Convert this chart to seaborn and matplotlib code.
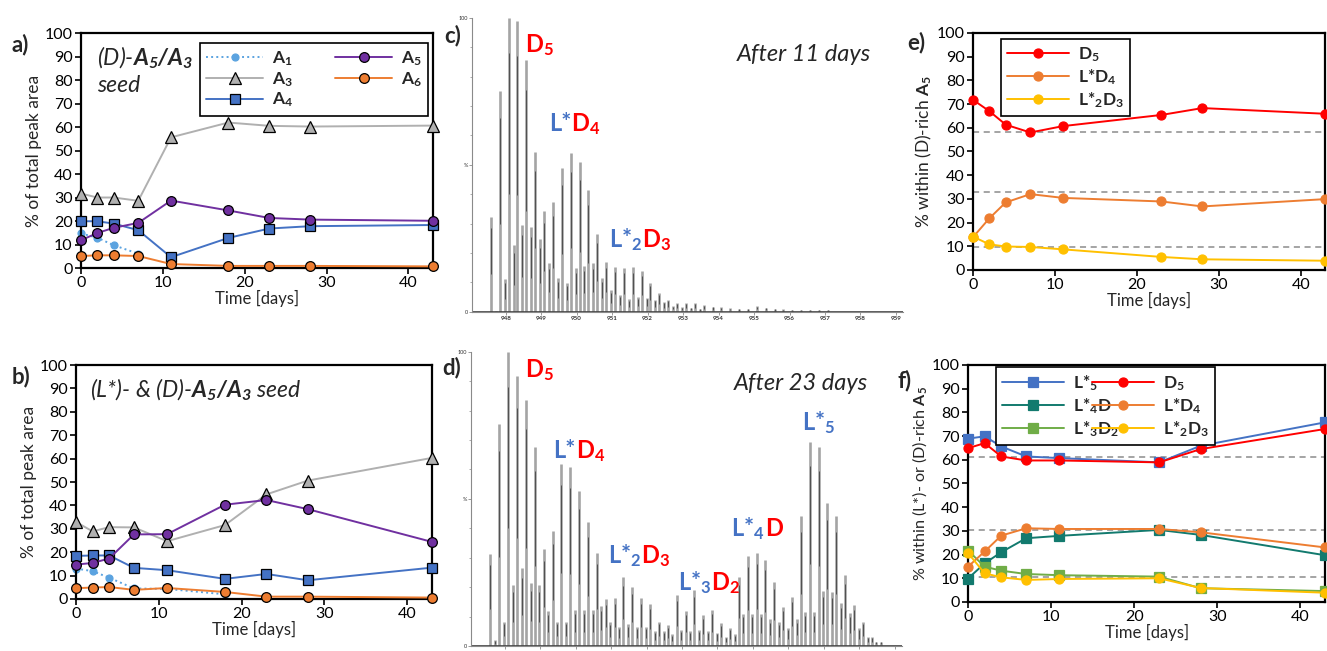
"""
Time course of A_n distributions (a, b), two mass spectra (c, d) and
composition within the A5 fraction (e, f).
"""
import matplotlib
matplotlib.use("Agg")
import matplotlib.pyplot as plt
from matplotlib.offsetbox import TextArea, HPacker, AnnotationBbox
import seaborn as sns

sns.set_theme(style="ticks")
plt.rcParams["font.family"] = ["Lato", "DejaVu Sans"]
plt.rcParams.update({
    "mathtext.fontset": "custom",
    "mathtext.rm": "Lato",
    "mathtext.it": "Lato:italic",
    "mathtext.bf": "Lato:bold",
    "mathtext.bfit": "Lato:bold:italic",
})

# ---- data: panels a and b (% of total peak area) ----
t_ab = [0, 2, 4, 7, 11, 18, 23, 28, 43]
a_A1_t = [0, 2, 4, 7]
a_A1 = [14.7, 12.9, 9.7, 6.1]
a_A3 = [31.7, 30.0, 30.0, 28.6, 55.6, 61.9, 60.5, 60.2, 60.6]
a_A4 = [19.9, 19.9, 18.9, 16.1, 4.6, 12.8, 16.8, 17.8, 18.3]
a_A5 = [11.8, 14.9, 17.1, 19.2, 28.7, 24.5, 21.3, 20.6, 20.1]
a_A6 = [5.1, 5.4, 5.4, 5.1, 1.7, 0.9, 0.9, 0.9, 0.7]

b_A1_t = [0, 2, 4, 7, 11, 18]
b_A1 = [13.0, 11.9, 9.1, 4.5, 4.3, 2.0]
b_A3 = [32.9, 28.9, 30.7, 30.6, 24.7, 31.6, 44.7, 50.6, 60.3]
b_A4 = [18.4, 18.6, 18.6, 13.3, 12.3, 8.6, 10.7, 8.0, 13.4]
b_A5 = [14.7, 15.4, 17.3, 27.6, 27.7, 40.3, 42.3, 38.4, 24.4]
b_A6 = [4.6, 4.9, 5.1, 3.9, 4.7, 3.0, 1.0, 1.0, 0.6]

# ---- data: panels e and f (% within A5) ----
t_ef = [0, 2, 4, 7, 11, 23, 28, 43]
e_D5 = [71.8, 67.0, 61.3, 58.0, 60.7, 65.4, 68.3, 65.9]
e_LD4 = [13.8, 21.8, 28.5, 32.0, 30.4, 28.9, 26.8, 29.9]
e_L2D3 = [14.1, 10.8, 9.9, 9.7, 8.7, 5.5, 4.5, 3.9]
e_ref = [58.0, 32.7, 9.5]

f_L5 = [68.9, 69.9, 65.6, 61.4, 60.7, 58.9, 65.9, 75.8]
f_D5 = [64.9, 67.0, 61.4, 59.7, 59.7, 58.9, 64.5, 73.0]
f_L4D = [9.9, 16.3, 21.0, 26.9, 27.9, 30.4, 28.3, 19.7]
f_LD4 = [14.9, 21.3, 28.0, 31.1, 30.8, 30.8, 29.4, 23.0]
f_L3D2 = [21.7, 14.9, 13.2, 11.8, 11.3, 10.7, 5.8, 4.6]
f_L2D3 = [20.6, 12.1, 10.4, 9.3, 9.7, 10.0, 5.9, 3.9]
f_ref = [61.0, 30.3, 10.6]

# ---- data: mass spectra (m/z, relative intensity) ----
c_main_mz = [947.58, 947.83, 948.08, 948.33, 948.58, 948.83, 949.08, 949.33,
             949.58, 949.83, 950.08, 950.33, 950.58, 950.83, 951.08, 951.33,
             951.58, 951.83, 952.08, 952.33, 952.58, 952.83, 953.08, 953.33,
             953.58, 953.83, 954.08, 954.33, 954.58, 954.83, 955.08, 955.33,
             955.58, 955.83, 956.08, 956.33, 956.58, 956.83, 957.08]
c_main_h = [32.4, 75.0, 100.0, 98.9, 85.8, 54.3, 34.4, 37.2, 48.9, 54.0,
            50.9, 41.3, 26.4, 16.8, 15.3, 15.0, 15.1, 13.9, 9.9, 6.3,
            4.0, 3.1, 3.1, 3.1, 2.3, 1.7, 1.5, 1.2, 1.0, 0.9,
            1.9, 1.3, 1.0, 0.8, 0.7, 0.6, 0.6, 0.5, 0.5]
c_minor_mz = [947.72, 947.97, 948.22, 948.47, 948.72, 948.97, 949.22, 949.47,
              949.72, 949.97, 950.22, 950.47, 950.72, 950.97, 951.22, 951.47,
              951.72, 951.97, 952.22, 952.47, 952.72, 952.97, 953.22, 953.47]
c_minor_h = [0.4, 11.0, 22.7, 29.5, 29.0, 24.8, 16.7, 11.4, 9.9, 14.8, 15.6,
             16.5, 11.6, 7.4, 5.7, 4.2, 5.1, 4.8, 4.0, 3.4, 2.0, 1.5, 1.3, 1.0]

d_main_mz = [947.60, 947.85, 948.10, 948.35, 948.60, 948.85, 949.10, 949.35,
             949.60, 949.85, 950.10, 950.35, 950.60, 950.85, 951.10, 951.35,
             951.60, 951.85, 952.10, 952.35, 952.60, 952.85, 953.10, 953.35,
             953.60, 953.85, 954.10, 954.35, 954.60, 954.85, 955.10, 955.35,
             955.60, 955.85, 956.10, 956.35, 956.60, 956.85, 957.10, 957.35,
             957.60, 957.85, 958.10, 958.35, 958.60]
d_main_h = [31.1, 75.4, 100.0, 91.7, 83.6, 67.7, 32.8, 39.2, 62.0, 60.9,
            52.7, 42.2, 31.5, 15.9, 16.2, 23.3, 20.2, 16.4, 14.2, 8.3,
            7.1, 17.3, 12.0, 19.0, 10.5, 12.2, 7.7, 6.0, 23.6, 30.6,
            31.7, 29.2, 21.9, 13.4, 16.8, 44.2, 69.4, 67.7, 48.7, 44.2,
            24.1, 13.9, 8.3, 3.0, 1.5]
d_minor_mz = [947.73, 947.98, 948.23, 948.48, 948.73, 948.98, 949.23, 949.48,
              949.73, 949.98, 950.23, 950.48, 950.73, 950.98, 951.23, 951.48,
              951.73, 951.98, 952.23, 952.48, 952.73, 952.98, 953.23, 953.48,
              953.73, 953.98, 954.23, 954.48, 954.73, 954.98, 955.23, 955.48,
              955.73, 955.98, 956.23, 956.48, 956.73, 956.98, 957.23, 957.48,
              957.73, 957.98, 958.23, 958.48]
d_minor_h = [2.0, 8.3, 20.7, 26.4, 21.3, 20.7, 12.0, 8.3, 8.3, 12.2,
             12.2, 12.2, 13.6, 8.0, 6.6, 7.5, 6.6, 6.6, 5.0, 5.0,
             4.0, 5.5, 5.0, 5.5, 5.0, 4.5, 3.0, 4.0, 11.0, 11.0,
             11.0, 9.0, 8.0, 6.0, 9.0, 11.7, 11.7, 18.8, 18.5, 14.7,
             11.3, 6.0, 3.0, 1.5]
mz_ticks = [948, 949, 950, 951, 952, 953, 954, 955, 956, 957, 958, 959]

RED = "#FF0000"
BLUE = "#4472C4"

fig = plt.figure(figsize=(13.27, 6.51), dpi=100)
ax_a = fig.add_axes([0.0610, 0.5883, 0.2653, 0.3610])
ax_b = fig.add_axes([0.0573, 0.0799, 0.2682, 0.3594])
ax_c = fig.add_axes([0.3557, 0.5212, 0.3248, 0.4512])
ax_d = fig.add_axes([0.3549, 0.0077, 0.3248, 0.4521])
ax_e = fig.add_axes([0.7332, 0.5853, 0.2655, 0.3641])
ax_f = fig.add_axes([0.7295, 0.0753, 0.2692, 0.3641])


def series(ax, t, y, color, marker, label, ms=6.5, ls="-", mec="black", z=3):
    sns.lineplot(x=t, y=y, ax=ax, color=color, marker=marker, markersize=ms,
                 markeredgecolor=mec, markeredgewidth=0.9, linewidth=1.4,
                 linestyle=ls, label=label, clip_on=False, zorder=z,
                 sort=False, estimator=None)


def style_trend(ax, ylabel, ylabel_size=12.5):
    ax.set_xlim(0, 43)
    ax.set_ylim(0, 100)
    ax.set_xticks([0, 10, 20, 30, 40])
    ax.set_yticks(range(0, 101, 10))
    for s in ax.spines.values():
        s.set_linewidth(1.6)
        s.set_color("black")
    ax.tick_params(direction="out", length=4, width=1.2, labelsize=11.5,
                   pad=2, colors="black")
    ax.set_xlabel("Time [days]", fontsize=12, labelpad=0)
    ax.set_ylabel(ylabel, fontsize=ylabel_size, labelpad=2)


def legend(ax, anchor, ncol, mode=None, fs=12.5, hl=3.3, ls=0.2):
    leg = ax.legend(ncol=ncol, mode=mode, loc="upper left",
                    bbox_to_anchor=anchor, frameon=True, fancybox=False,
                    edgecolor="black", framealpha=1, fontsize=fs,
                    handlelength=hl, borderpad=0.35, labelspacing=ls,
                    handletextpad=0.5, columnspacing=1.2, borderaxespad=0)
    leg.get_frame().set_linewidth(1.2)
    return leg


def abn_panel(ax, a1_t, a1, a3, a4, a5, a6, show_legend):
    series(ax, a1_t, a1, "#5BA3E0", "o", r"$\mathbf{A_1}$", ms=5, ls=":",
           mec="#5BA3E0", z=2)
    series(ax, t_ab, a3, "#B0B0B0", "^", r"$\mathbf{A_3}$", ms=8.5)
    series(ax, t_ab, a4, BLUE, "s", r"$\mathbf{A_4}$", ms=6.5)
    series(ax, t_ab, a5, "#7030A0", "o", r"$\mathbf{A_5}$", ms=7)
    series(ax, t_ab, a6, "#ED7D31", "o", r"$\mathbf{A_6}$", ms=7)
    style_trend(ax, "% of total peak area")
    if show_legend:
        legend(ax, (0.338, 0.681, 0.648, 0.276), 2, mode="expand", fs=12.5,
               ls=0.12)
    else:
        ax.get_legend().remove()


abn_panel(ax_a, a_A1_t, a_A1, a_A3, a_A4, a_A5, a_A6, True)
abn_panel(ax_b, b_A1_t, b_A1, b_A3, b_A4, b_A5, b_A6, False)

ax_a.text(0.045, 0.95, "(D)-$\\mathbfit{A_5/A_3}$\nseed", transform=ax_a.transAxes,
          fontsize=16.5, fontstyle="italic", va="top", ha="left", linespacing=1.25)
ax_b.text(0.04, 0.893, "(L*)- & (D)-$\\mathbfit{A_5/A_3}$ seed",
          transform=ax_b.transAxes, fontsize=16.5, fontstyle="italic",
          va="center", ha="left")

# ---- panel e ----
for r in e_ref:
    ax_e.axhline(r, color="#8C8C8C", linestyle=(0, (4, 3)), linewidth=1.1,
                 zorder=1)
series(ax_e, t_ef, e_D5, RED, "o", r"$\mathbf{D_5}$", mec=RED)
series(ax_e, t_ef, e_LD4, "#ED7D31", "o", r"L*$\mathbf{D_4}$", mec="#ED7D31")
series(ax_e, t_ef, e_L2D3, "#FFC000", "o", r"L*$_\mathbf{2}$$\mathbf{D_3}$",
       mec="#FFC000")
style_trend(ax_e, "% within (D)-rich $\\mathbf{A_5}$")
le = legend(ax_e, (0.079, 0.975), 1, fs=12.5, hl=3.6)
for txt in le.get_texts():
    txt.set_fontweight("bold")

# ---- panel f ----
for r in f_ref:
    ax_f.axhline(r, color="#8C8C8C", linestyle=(0, (4, 3)), linewidth=1.1,
                 zorder=1)
series(ax_f, t_ef, f_L5, BLUE, "s", r"L*$_\mathbf{5}$", mec=BLUE)
series(ax_f, t_ef, f_L4D, "#127A6E", "s", r"L*$_\mathbf{4}$D", mec="#127A6E")
series(ax_f, t_ef, f_L3D2, "#70AD47", "s", r"L*$_\mathbf{3}$$\mathbf{D_2}$",
       mec="#70AD47")
series(ax_f, t_ef, f_D5, RED, "o", r"$\mathbf{D_5}$", mec=RED)
series(ax_f, t_ef, f_LD4, "#ED7D31", "o", r"L*$\mathbf{D_4}$", mec="#ED7D31")
series(ax_f, t_ef, f_L2D3, "#FFC000", "o", r"L*$_\mathbf{2}$$\mathbf{D_3}$",
       mec="#FFC000")
style_trend(ax_f, "% within (L*)- or (D)-rich $\\mathbf{A_5}$", ylabel_size=11.6)
lf = legend(ax_f, (0.078, 0.696, 0.613, 0.296), 2, mode="expand", fs=12.5,
            hl=3.6)
for txt in lf.get_texts():
    txt.set_fontweight("bold")


# ---- spectra ----
def spectrum(ax, mz_main, h_main, mz_minor, h_minor, show_mz=True):
    mz = mz_main + mz_minor
    h = h_main + h_minor
    ax.vlines(mz, 0, h, colors="#A4A4A4", linewidth=1.9, clip_on=False)
    ax.vlines(mz, [0.4 * v for v in h], [0.88 * v for v in h],
              colors="#2E2E2E", linewidth=0.5, clip_on=False)
    ax.axhline(0.4, color="#404040", linewidth=0.6)
    ax.set_xlim(947.05, 959.2)
    ax.set_ylim(0, 100)
    for side in ["top", "right"]:
        ax.spines[side].set_visible(False)
    for side in ["left", "bottom"]:
        ax.spines[side].set_color("#8A8A8A")
        ax.spines[side].set_linewidth(0.8)
    ax.set_xticks(mz_ticks)
    if show_mz:
        ax.set_xticklabels([str(v) for v in mz_ticks], fontsize=4.5,
                           fontweight="bold")
    else:
        ax.set_xticklabels([])
    ax.set_yticks([0, 50, 100])
    ax.set_yticklabels(["0", "%", "100"], fontsize=4)
    ax.set_yticks(range(0, 101, 10), minor=True)
    ax.tick_params(axis="both", which="major", length=2, width=0.6,
                   pad=1, colors="#8A8A8A", labelcolor="#333333")
    ax.tick_params(axis="y", which="minor", length=1.5, width=0.5,
                   colors="#8A8A8A", left=True)


def peak_label(ax, x, y, parts):
    boxes = [TextArea(txt, textprops=dict(color=col, fontsize=17,
                                          fontweight="bold"))
             for txt, col in parts]
    pack = HPacker(children=boxes, align="baseline", pad=0, sep=0)
    ab = AnnotationBbox(pack, (x, y), xycoords="data", box_alignment=(0, 0),
                        frameon=False, pad=0, annotation_clip=False)
    ax.add_artist(ab)


spectrum(ax_c, c_main_mz, c_main_h, c_minor_mz, c_minor_h)
spectrum(ax_d, d_main_mz, d_main_h, d_minor_mz, d_minor_h, show_mz=False)

ax_c.text(958.29, 87.6, "After 11 days", fontsize=17, fontstyle="italic",
          ha="right", va="center")
ax_d.text(958.25, 89.3, "After 23 days", fontsize=17, fontstyle="italic",
          ha="right", va="center")

peak_label(ax_c, 948.54, 86.5, [(r"D$_\mathbf{5}$", RED)])
peak_label(ax_c, 949.22, 59.5, [("L*", BLUE), (r"D$_\mathbf{4}$", RED)])
peak_label(ax_c, 950.90, 20.0, [(r"L*$_\mathbf{2}$", BLUE),
                                (r"D$_\mathbf{3}$", RED)])

peak_label(ax_d, 948.56, 89.5, [(r"D$_\mathbf{5}$", RED)])
peak_label(ax_d, 949.37, 62.0, [("L*", BLUE), (r"D$_\mathbf{4}$", RED)])
peak_label(ax_d, 950.91, 26.0, [(r"L*$_\mathbf{2}$", BLUE),
                                (r"D$_\mathbf{3}$", RED)])
peak_label(ax_d, 952.88, 17.0, [(r"L*$_\mathbf{3}$", BLUE),
                                (r"D$_\mathbf{2}$", RED)])
peak_label(ax_d, 954.39, 35.5, [(r"L*$_\mathbf{4}$", BLUE), ("D", RED)])
peak_label(ax_d, 956.38, 71.5, [(r"L*$_\mathbf{5}$", BLUE)])

# ---- panel letters ----
for letter, x, y in [("a)", 0.009, 0.931), ("b)", 0.009, 0.422),
                     ("c)", 0.335, 0.946), ("d)", 0.333, 0.436),
                     ("e)", 0.684, 0.934), ("f)", 0.676, 0.415)]:
    fig.text(x, y, letter, fontsize=16, fontweight="bold", va="center",
             ha="left")

fig.savefig("out.png", dpi=100, facecolor="white")
